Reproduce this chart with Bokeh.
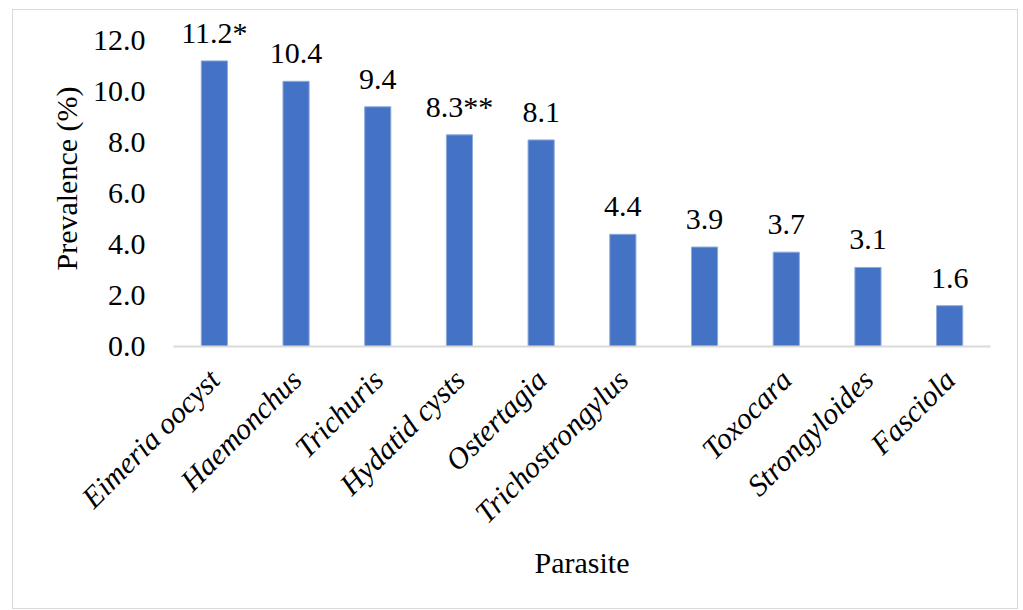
import math
from bokeh.plotting import figure
from bokeh.models import Range1d, NumeralTickFormatter, FixedTicker, ColumnDataSource, LabelSet
from bokeh.embed import file_html
from bokeh.resources import INLINE

parasites = ["Eimeria oocyst", "Haemonchus", "Trichuris", "Hydatid cysts", "Ostertagia",
             "Trichostrongylus", "", "Toxocara", "Strongyloides", "Fasciola"]
prevalence = [11.2, 10.4, 9.4, 8.3, 8.1, 4.4, 3.9, 3.7, 3.1, 1.6]
value_labels = ["11.2*", "10.4", "9.4", "8.3**", "8.1", "4.4", "3.9", "3.7", "3.1", "1.6"]
y_ticks = [0, 2, 4, 6, 8, 10, 12]

xs = [i + 0.5 for i in range(len(parasites))]
src = ColumnDataSource(dict(x=xs, y=prevalence, lab=value_labels))

FONT = "'Liberation Serif', 'DejaVu Serif', serif"
FS = "30px"

p = figure(width=1006, height=600, output_backend="svg", toolbar_location=None,
           x_range=Range1d(0, len(parasites)), y_range=Range1d(0, 12 * 336 / 306),
           min_border_left=160, min_border_right=29, min_border_top=0, min_border_bottom=264)
p.margin = (9, 3, 0, 12)
p.styles = {"border": "1px solid #d9d9d9"}
p.outline_line_color = None
p.background_fill_color = "white"
p.border_fill_color = "white"
p.xgrid.visible = False
p.ygrid.visible = False

p.vbar(x="x", top="y", width=0.32, source=src, fill_color="#4472C4", line_color="#8eaadb", line_width=1)
labels = LabelSet(x="x", y="y", text="lab", source=src, text_align="center", text_baseline="alphabetic",
                  y_offset=18, text_font=FONT, text_font_size=FS, text_color="black")
p.add_layout(labels)

# y axis
p.yaxis.ticker = FixedTicker(ticks=y_ticks)
p.yaxis.formatter = NumeralTickFormatter(format="0.0")
p.yaxis.axis_line_color = None
p.yaxis.major_tick_line_color = None
p.yaxis.minor_tick_line_color = None
p.yaxis.major_label_text_font = FONT
p.yaxis.major_label_text_font_size = FS
p.yaxis.major_label_text_color = "black"
p.yaxis.major_label_standoff = 22
p.yaxis.axis_label = "Prevalence (%)"
p.yaxis.axis_label_text_font = FONT
p.yaxis.axis_label_text_font_size = FS
p.yaxis.axis_label_text_font_style = "normal"
p.yaxis.axis_label_text_color = "black"
p.yaxis.axis_label_standoff = 7

# x axis
p.xaxis.ticker = FixedTicker(ticks=xs)
p.xaxis.major_label_overrides = {x: name for x, name in zip(xs, parasites)}
p.xaxis.major_label_orientation = math.pi / 4
p.xaxis.axis_line_color = "#d9d9d9"
p.xaxis.axis_line_width = 2
p.xaxis.major_tick_line_color = None
p.xaxis.minor_tick_line_color = None
p.xaxis.major_label_text_font = FONT
p.xaxis.major_label_text_font_size = FS
p.xaxis.major_label_text_font_style = "italic"
p.xaxis.major_label_text_color = "black"
p.xaxis.major_label_standoff = 22
p.xaxis.axis_label = "Parasite"
p.xaxis.axis_label_text_font = FONT
p.xaxis.axis_label_text_font_size = FS
p.xaxis.axis_label_text_font_style = "normal"
p.xaxis.axis_label_text_color = "black"
p.xaxis.axis_label_standoff = 2

open("out.html", "w").write(file_html(p, INLINE))
